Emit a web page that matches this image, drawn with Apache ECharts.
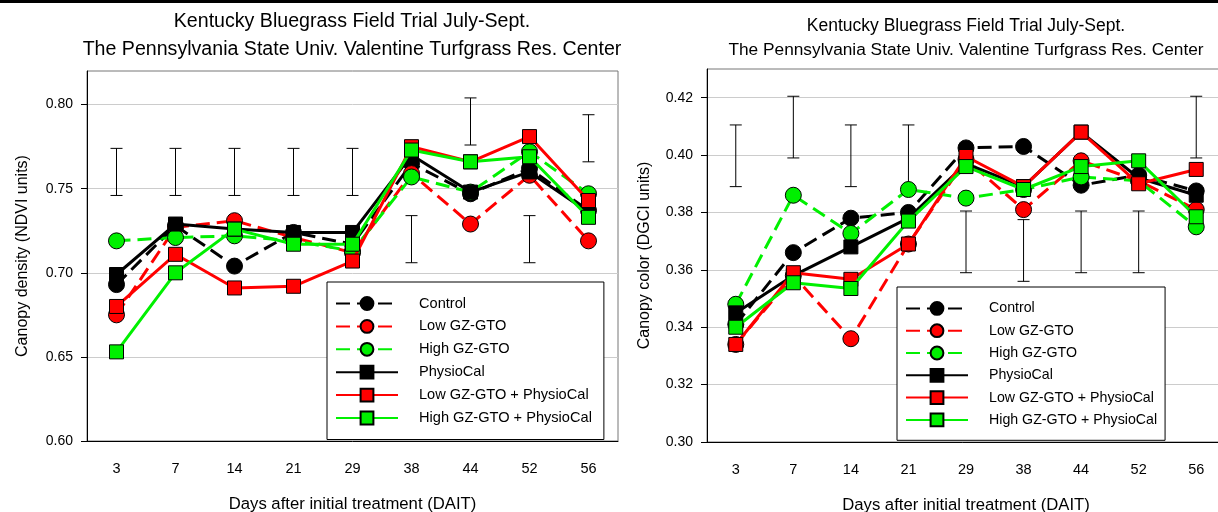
<!DOCTYPE html>
<html>
<head>
<meta charset="utf-8">
<script src="https://cdn.jsdelivr.net/npm/echarts@6/dist/echarts.min.js"></script>
<style>html,body{margin:0;padding:0;background:#fff}#c{width:1218px;height:512px}</style>
</head>
<body>
<div id="c"></div>
<script>
const days = ['3','7','14','21','29','38','44','52','56'];
const seriesNames = ['Control','Low GZ-GTO','High GZ-GTO','PhysioCal','Low GZ-GTO + PhysioCal','High GZ-GTO + PhysioCal'];
const titleLine1 = 'Kentucky Bluegrass Field Trial July-Sept.';
const titleLine2 = 'The Pennsylvania State Univ. Valentine Turfgrass Res. Center';
const xTitle = 'Days after initial treatment (DAIT)';
const ndviTitle = 'Canopy density (NDVI units)';
const dgciTitle = 'Canopy color (DGCI units)';

// NDVI (left)
const ndviControl = [0.693, 0.728, 0.704, 0.724, 0.717, 0.765, 0.747, 0.762, 0.737];
const ndviLow     = [0.675, 0.727, 0.731, 0.721, 0.712, 0.759, 0.729, 0.758, 0.719];
const ndviHigh    = [0.719, 0.721, 0.722, 0.719, 0.713, 0.757, 0.748, 0.772, 0.747];
const ndviPhysio  = [0.699, 0.729, 0.726, 0.724, 0.724, 0.770, 0.748, 0.760, 0.736];
const ndviLowP    = [0.680, 0.711, 0.691, 0.692, 0.707, 0.775, 0.766, 0.781, 0.743];
const ndviHighP   = [0.653, 0.700, 0.726, 0.717, 0.717, 0.773, 0.766, 0.769, 0.733];
const ndviErrLow  = [0.746, 0.746, 0.746, 0.746, 0.746, 0.706, 0.776, 0.706, 0.766];
const ndviErrHigh = [0.774, 0.774, 0.774, 0.774, 0.774, 0.734, 0.804, 0.734, 0.794];
const ndviTicks   = [0.60, 0.65, 0.70, 0.75, 0.80];

// DGCI (right)
const dgciControl = [0.341, 0.366, 0.378, 0.380, 0.4025, 0.403, 0.3895, 0.393, 0.3875];
const dgciLow     = [0.334, 0.358, 0.336, 0.369, 0.3985, 0.381, 0.398, 0.391, 0.381];
const dgciHigh    = [0.348, 0.386, 0.3727, 0.388, 0.385, 0.388, 0.3924, 0.391, 0.375];
const dgciPhysio  = [0.345, 0.358, 0.368, 0.378, 0.397, 0.389, 0.408, 0.392, 0.386];
const dgciLowP    = [0.334, 0.359, 0.3567, 0.369, 0.3995, 0.389, 0.408, 0.390, 0.395];
const dgciHighP   = [0.340, 0.3555, 0.3535, 0.377, 0.396, 0.388, 0.396, 0.398, 0.3785];
const dgciErrLow  = [0.389, 0.399, 0.389, 0.389, 0.359, 0.356, 0.359, 0.359, 0.399];
const dgciErrHigh = [0.4105, 0.4205, 0.4105, 0.4105, 0.3805, 0.3775, 0.3805, 0.3805, 0.4205];
const dgciTicks   = [0.30, 0.32, 0.34, 0.36, 0.38, 0.40, 0.42];

const FONT = 'Liberation Sans';
const GREEN = '#00f000';
const styles = [
  {color:'#000000', symbol:'circle', dashed:true},
  {color:'#ff0000', symbol:'circle', dashed:true},
  {color:GREEN, symbol:'circle', dashed:true},
  {color:'#000000', symbol:'rect', dashed:false},
  {color:'#ff0000', symbol:'rect', dashed:false},
  {color:GREEN, symbol:'rect', dashed:false}
];

function lineSeries(idx, data, axisIdx) {
  const s = styles[idx];
  return {
    name: seriesNames[idx], type: 'line', xAxisIndex: axisIdx, yAxisIndex: axisIdx,
    data: data, symbol: s.symbol, symbolSize: s.symbol === 'circle' ? 16 : 14,
    lineStyle: {color: s.color, width: 3, type: s.dashed ? [14, 7] : 'solid'},
    itemStyle: {color: s.color, borderColor: '#000', borderWidth: 1},
    emphasis: {disabled: true}, z: 3 + idx
  };
}
function errSeries(lo, hi, axisIdx) {
  return {
    type: 'custom', xAxisIndex: axisIdx, yAxisIndex: axisIdx, silent: true, z: 2,
    data: days.map((d, i) => [i, lo[i], hi[i]]),
    encode: {x: 0, y: [1, 2]},
    renderItem: function (params, api) {
      const x = api.value(0);
      const p1 = api.coord([x, api.value(1)]);
      const p2 = api.coord([x, api.value(2)]);
      const w = 6;
      const st = {stroke: '#000', lineWidth: 1};
      return {type: 'group', children: [
        {type: 'line', shape: {x1: p1[0], y1: p1[1], x2: p2[0], y2: p2[1]}, style: st},
        {type: 'line', shape: {x1: p1[0]-w, y1: p1[1], x2: p1[0]+w, y2: p1[1]}, style: st},
        {type: 'line', shape: {x1: p2[0]-w, y1: p2[1], x2: p2[0]+w, y2: p2[1]}, style: st}
      ]};
    }
  };
}
function xAxis(gi) {
  return {
    type: 'category', gridIndex: gi, data: days, boundaryGap: true,
    axisLine: {lineStyle: {color: '#000', width: 1}},
    axisTick: {alignWithLabel: true, length: 5, lineStyle: {color: '#000'}},
    axisLabel: {color: '#000', fontSize: 14.5, fontFamily: FONT, margin: 20},
    splitLine: {show: false},
    name: xTitle, nameLocation: 'middle', nameGap: 55,
    nameTextStyle: {color: '#000', fontSize: 16.7, fontFamily: FONT}
  };
}
function yAxis(gi, min, max, ticks, name, gap) {
  return {
    type: 'value', gridIndex: gi, min: min, max: max,
    axisLine: {show: true, lineStyle: {color: '#000', width: 1}},
    axisTick: {show: true, length: 6, lineStyle: {color: '#000'}, customValues: ticks},
    axisLabel: {color: '#000', fontSize: 14, fontFamily: FONT, margin: 14, customValues: ticks,
      formatter: v => v.toFixed(2)},
    splitLine: {show: true, lineStyle: {color: '#cccccc', width: 1}},
    name: name, nameLocation: 'middle', nameGap: gap, nameRotate: 90,
    nameTextStyle: {color: '#000', fontSize: 16, fontFamily: FONT}
  };
}
function legend(left, top, gap, pad, fs) {
  return {
    left: left, top: top, orient: 'vertical', data: seriesNames,
    itemWidth: 62, itemHeight: 16, itemGap: gap, padding: pad,
    borderColor: '#000', borderWidth: 1, backgroundColor: '#fff',
    textStyle: {color: '#000', fontSize: fs, fontFamily: FONT, padding: [0, 0, 0, 16]},
    selectedMode: false
  };
}

const chart = echarts.init(document.getElementById('c'), null, {renderer: 'canvas'});
function tStyle(text, size) {
  return {text: text, fill: '#000', fontSize: size, fontFamily: FONT, textAlign: 'center', textVerticalAlign: 'middle'};
}
chart.setOption({
  animation: false,
  backgroundColor: '#fff',
  grid: [
    {left: 87, top: 71, width: 531, height: 370, show: true, borderColor: '#777', borderWidth: 1,
     backgroundColor: 'transparent', containLabel: false, outerBoundsMode: 'none'},
    {left: 707, top: 69, width: 518, height: 373, show: true, borderColor: '#777', borderWidth: 1,
     backgroundColor: 'transparent', containLabel: false, outerBoundsMode: 'none'}
  ],
  xAxis: [xAxis(0), xAxis(1)],
  yAxis: [
    yAxis(0, 0.60, 0.82, ndviTicks, ndviTitle, 56),
    yAxis(1, 0.30, 0.43, dgciTicks, dgciTitle, 54)
  ],
  legend: [legend(327, 282, 7.9, [14, 12, 14, 8], 14.6), legend(897, 287, 7.5, [14, 8, 13, 8], 14.2)],
  series: [
    errSeries(ndviErrLow, ndviErrHigh, 0),
    lineSeries(0, ndviControl, 0), lineSeries(1, ndviLow, 0), lineSeries(2, ndviHigh, 0),
    lineSeries(3, ndviPhysio, 0), lineSeries(4, ndviLowP, 0), lineSeries(5, ndviHighP, 0),
    errSeries(dgciErrLow, dgciErrHigh, 1),
    lineSeries(0, dgciControl, 1), lineSeries(1, dgciLow, 1), lineSeries(2, dgciHigh, 1),
    lineSeries(3, dgciPhysio, 1), lineSeries(4, dgciLowP, 1), lineSeries(5, dgciHighP, 1)
  ],
  graphic: [
    {type: 'rect', shape: {x: 0, y: 0, width: 1218, height: 3}, style: {fill: '#000'}},
    {type: 'text', x: 352, y: 22, style: tStyle(titleLine1, 19.6)},
    {type: 'text', x: 352, y: 50, style: tStyle(titleLine2, 19.6)},
    {type: 'text', x: 966, y: 26, style: tStyle(titleLine1, 17.5)},
    {type: 'text', x: 966, y: 50, style: tStyle(titleLine2, 17.3)}
  ]
});
</script>
</body>
</html>
